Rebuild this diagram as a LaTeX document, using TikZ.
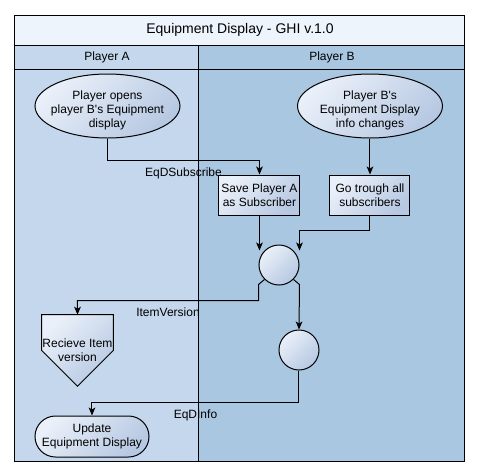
\documentclass[tikz,border=0pt]{standalone}
\usepackage{fontspec}
\setmainfont{Liberation Sans}[Ligatures=TeXOff]
\usetikzlibrary{arrows.meta, positioning, shapes.geometric, shapes.misc, calc}
\definecolor{titlefill}{HTML}{EEF4FC}
\definecolor{lanea}{HTML}{C4D7EC}
\definecolor{laneb}{HTML}{A9C7E1}
\definecolor{shadelight}{HTML}{EAF0F9}
\definecolor{shadedark}{HTML}{B6C8E2}
\tikzset{%
  shapefill/.style={draw=black, line width=0.75pt, top color=shadelight, bottom color=shadedark, shading angle=45},
  ellip/.style={ellipse, shapefill, minimum width=108.75pt, minimum height=48pt, inner sep=0pt},
  stepbox/.style={rectangle, shapefill, minimum width=60.75pt, minimum height=30pt, inner sep=0pt, align=center},
  merge/.style={circle, shapefill, minimum size=30pt, inner sep=0pt},
  pentbox/.style={rectangle, minimum width=53.25pt, minimum height=53.25pt, inner sep=0pt},
  termbox/.style={rounded rectangle, shapefill, minimum width=85.5pt, minimum height=30.75pt, inner sep=0pt},
  flow/.style={draw=black, line width=0.75pt, -{Stealth[length=6pt, width=5pt, inset=1.5pt]}},
  msg/.style={below=3pt, inner sep=2pt},
  lane/.style={draw=black, line width=0.75pt}
}
\begin{document}
\begin{tikzpicture}[x=0.75pt, y=-0.75pt, font=\fontsize{9}{10.5}\selectfont]
  \useasboundingbox (0,0) rectangle (480,476);

  % pool and lanes
  \fill[titlefill] (15,15) rectangle (465,45);
  \fill[lanea] (15,45) rectangle (199,461);
  \fill[laneb] (199,45) rectangle (465,461);
  \draw[lane] (15,15) rectangle (465,461);
  \draw[lane] (15,45) -- (465,45);
  \draw[lane] (15,69) -- (465,69);
  \draw[lane] (199,45) -- (199,461);

  \node (title) at (240,30) {\fontsize{10.5}{12}\selectfont Equipment Display - GHI v.1.0};
  \node (hdra) at (107,57) {Player A};
  \node (hdrb) at (332,57) {Player B};

  % shapes
  \node[ellip, label={[align=center, yshift=-3pt]center:Player opens\\player B's Equipment\\display}] (sa) at (107.5,106) {};
  \node[ellip, label={[align=center, yshift=-3pt]center:Player B's\\Equipment Display\\info changes}] (sb) at (370,106) {};

  \node[stepbox] (save) at (259.5,195) {Save Player A\\as Subscriber};
  \node[stepbox, minimum width=60pt] (go) at (370,195) {Go trough all\\subscribers};

  \node[merge] (j1) at (279,265) {};
  \node[merge] (j2) at (299,350) {};

  \node[pentbox] (recv) at (77.5,350.5) {};
  \shade[shapefill] (recv.north west) -- (recv.north east) -- (recv.east) -- (recv.south) -- (recv.west) -- cycle;
  \node[align=center] (recvtxt) at (recv) {Recieve Item\\version};

  \node[termbox, label={[align=center]center:Update\\Equipment Display}] (upd) at (92,436.5) {};

  % connectors
  \draw[flow] (sa.south) -- ++(0,22) -| node[msg, pos=0.25] (lsub) {EqDSubscribe} (save.north);
  \draw[flow] (sb) -- (go);
  \draw[flow] (save.south) -- (save.south |- j1.north west);
  \draw[flow] (go.south) -- ++(0,15) -| (j1.north east -| j1.east);
  \draw[flow] (j1.south west) -- ++(-6,5) -- ++(0,16) -| node[msg, pos=0.25] (lver) {ItemVersion} (recv.north);
  \draw[flow] (j1.south east) -- ++(6,5) -- (j2.north);
  \draw[flow] (j2.south) -- ++(0,32) -| node[msg, pos=0.25] (linfo) {EqDInfo} (upd.north);
\end{tikzpicture}
\end{document}
